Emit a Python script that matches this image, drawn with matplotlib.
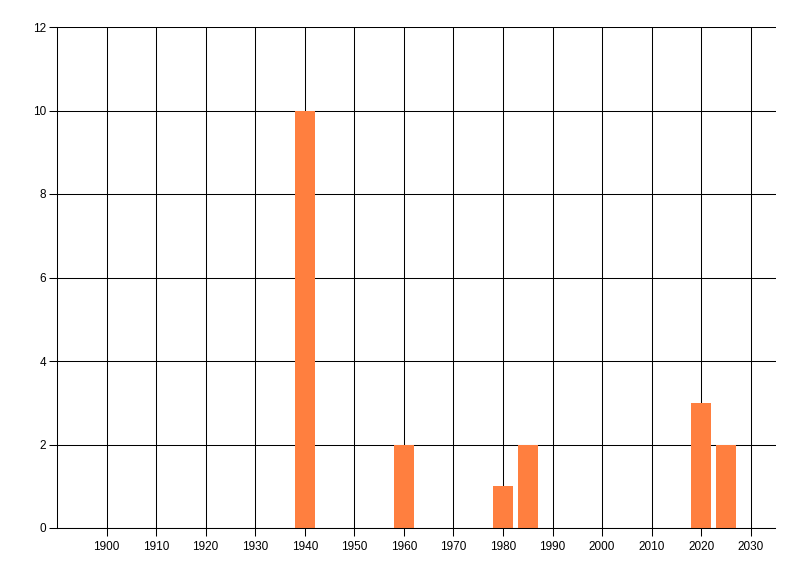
import matplotlib.pyplot as plt

# 数据
years = [1940, 1960, 1980, 1985, 2020, 2025]
counts = [10, 2, 1, 2, 3, 2]
x_ticks = list(range(1900, 2031, 10))
y_ticks = list(range(0, 13, 2))

plt.rcParams['font.family'] = ['Liberation Sans', 'DejaVu Sans']

fig = plt.figure(figsize=(8, 5.76), dpi=100)
ax = fig.add_axes([57 / 800, 48 / 576, (775.5 - 57) / 800, (528 - 27) / 576])

ax.bar(years, counts, width=4, color='#FF7F3F', zorder=3)

ax.set_xlim(1890, 2035)
ax.set_ylim(0, 12)
ax.set_xticks(x_ticks)
ax.set_yticks(y_ticks)
ax.grid(True, color='black', linewidth=0.75, zorder=1)
ax.set_axisbelow(True)

for side in ['top', 'right']:
    ax.spines[side].set_visible(False)
for side in ['left', 'bottom']:
    ax.spines[side].set_linewidth(0.75)
    ax.spines[side].set_zorder(4)

ax.tick_params(axis='both', length=6, width=0.75, color='black', labelsize=8.5, pad=2)
ax.tick_params(axis='x', pad=3)

plt.savefig('out.png', dpi=100)
